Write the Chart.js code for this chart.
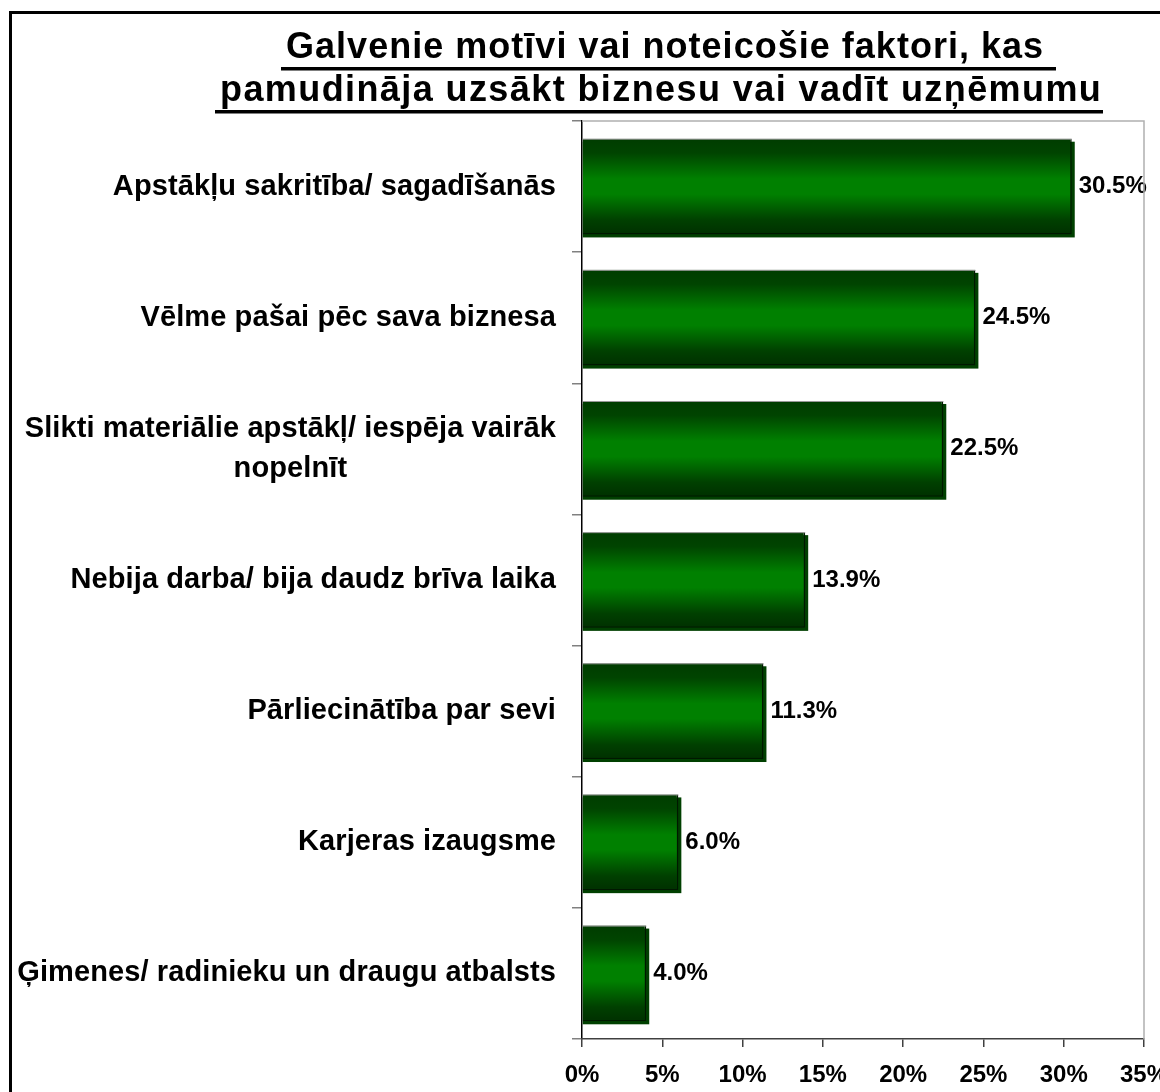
<!DOCTYPE html>
<html>
<head>
<meta charset="utf-8">
<script src="https://cdn.jsdelivr.net/npm/chart.js@4.4.1/dist/chart.umd.min.js"></script>
<style>
  body { margin: 0; background: #fff; }
  #wrap { width: 1160px; height: 1092px; }
</style>
</head>
<body>
<div id="wrap"><canvas id="grafica" width="1160" height="1092"></canvas></div>
<script>
const titulo = [
  'Galvenie motīvi vai noteicošie faktori, kas ',
  'pamudināja uzsākt biznesu vai vadīt uzņēmumu'
];
const kategorijas = [
  'Apstākļu sakritība/ sagadīšanās',
  'Vēlme pašai pēc sava biznesa',
  ['Slikti materiālie apstākļ/ iespēja vairāk', 'nopelnīt'],
  'Nebija darba/ bija daudz brīva laika',
  'Pārliecinātība par sevi',
  'Karjeras izaugsme',
  'Ģimenes/ radinieku un draugu atbalsts'
];
const vertibas = [30.5, 24.5, 22.5, 13.9, 11.3, 6.0, 4.0];
const xMin = 0, xMax = 35, xSolis = 5;

const FONTS = '"Liberation Sans", Arial, sans-serif';
const barPct = 0.73;

// gradients for the bars (dark edge -> bright middle -> dark edge)
function zalaisGradients(c) {
  const chart = c.chart;
  const y = chart.scales.y;
  if (!y || c.dataIndex === undefined) return '#007000';
  const center = y.getPixelForValue(c.dataIndex);
  const half = Math.abs(y.getPixelForValue(1) - y.getPixelForValue(0)) * barPct / 2;
  if (!isFinite(center) || !isFinite(half) || half <= 0) return '#007000';
  const g = chart.ctx.createLinearGradient(0, center - half, 0, center + half);
  g.addColorStop(0, '#003c00');
  g.addColorStop(0.15, '#004400');
  g.addColorStop(0.42, '#008000');
  g.addColorStop(0.58, '#008000');
  g.addColorStop(0.85, '#004000');
  g.addColorStop(1, '#003000');
  return g;
}

const fonsUnRamis = {
  id: 'fonsUnRamis',
  beforeDraw(chart) {
    const ctx = chart.ctx;
    ctx.save();
    ctx.fillStyle = '#fff';
    ctx.fillRect(0, 0, chart.width, chart.height);
    ctx.restore();
  },
  afterDraw(chart) {
    const ctx = chart.ctx;
    const a = chart.chartArea;
    ctx.save();
    // light border on top and right of plot area
    ctx.strokeStyle = '#b0b0b0';
    ctx.lineWidth = 1.5;
    ctx.beginPath();
    ctx.moveTo(a.left, a.top);
    ctx.lineTo(a.right, a.top);
    ctx.lineTo(a.right, a.bottom);
    ctx.stroke();
    // outer frame
    ctx.strokeStyle = '#000';
    ctx.lineWidth = 3;
    ctx.strokeRect(10.5, 12.5, chart.width + 20, chart.height + 20);
    ctx.restore();
  }
};

// title: bold, underlined, each line stretched to the width seen in the original
const virsraksts = {
  id: 'virsraksts',
  afterDraw(chart) {
    const ctx = chart.ctx;
    const bazes = [58, 101];
    const sakums = [286, 220];
    const platums = [769, 882];
    ctx.save();
    ctx.font = 'bold 36px ' + FONTS;
    ctx.fillStyle = '#000';
    ctx.textAlign = 'left';
    ctx.textBaseline = 'alphabetic';
    titulo.forEach((t, i) => {
      ctx.letterSpacing = '0px';
      const w0 = ctx.measureText(t).width;
      const ls = (platums[i] - w0) / t.length;
      ctx.letterSpacing = ls.toFixed(2) + 'px';
      ctx.fillText(t, sakums[i], bazes[i]);
      ctx.fillRect(sakums[i] - 5, bazes[i] + 9, platums[i] + 6, 3.5);
    });
    ctx.restore();
  }
};

const kategorijuTeksti = {
  id: 'kategorijuTeksti',
  afterDraw(chart) {
    const ctx = chart.ctx;
    const y = chart.scales.y;
    const labaMala = chart.chartArea.left - 26;
    ctx.save();
    ctx.font = 'bold 29px ' + FONTS;
    ctx.letterSpacing = '0.1px';
    ctx.fillStyle = '#000';
    ctx.textBaseline = 'middle';
    kategorijas.forEach((k, i) => {
      const yc = y.getPixelForValue(i);
      if (Array.isArray(k)) {
        const maxW = Math.max(...k.map(l => ctx.measureText(l).width));
        const cx = labaMala - maxW / 2;
        const rinda = 40;
        ctx.textAlign = 'center';
        k.forEach((l, j) => {
          ctx.fillText(l, cx, yc + (j - (k.length - 1) / 2) * rinda);
        });
      } else {
        ctx.textAlign = 'right';
        ctx.fillText(k, labaMala, yc);
      }
    });
    ctx.restore();
  }
};

const stabiniEfekti = {
  id: 'stabiniEfekti',
  beforeDatasetsDraw(chart) {
    const ctx = chart.ctx;
    const meta = chart.getDatasetMeta(0);
    ctx.save();
    ctx.fillStyle = '#004000';
    meta.data.forEach(el => {
      const p = el.getProps(['x', 'y', 'base', 'height'], true);
      ctx.fillRect(p.base, p.y - p.height / 2 + 3, p.x - p.base + 3, p.height);
    });
    ctx.restore();
  },
  afterDatasetsDraw(chart) {
    const ctx = chart.ctx;
    const meta = chart.getDatasetMeta(0);
    ctx.save();
    meta.data.forEach((el, i) => {
      const p = el.getProps(['x', 'y', 'base', 'height'], true);
      ctx.fillStyle = '#9a9a9a';
      ctx.fillRect(p.base, p.y - p.height / 2, p.x - p.base, 1);
      ctx.fillStyle = '#000';
      ctx.font = 'bold 24px ' + FONTS;
      ctx.textAlign = 'left';
      ctx.textBaseline = 'middle';
      ctx.fillText(vertibas[i].toFixed(1) + '%', p.x + 7, p.y);
    });
    ctx.restore();
  }
};

new Chart(document.getElementById('grafica'), {
  type: 'bar',
  data: {
    labels: kategorijas,
    datasets: [{
      data: vertibas,
      backgroundColor: zalaisGradients,
      borderColor: '#001800',
      borderWidth: { top: 0, left: 0, right: 1.5, bottom: 1.5 },
      borderSkipped: 'start',
      categoryPercentage: 1,
      barPercentage: barPct
    }]
  },
  options: {
    indexAxis: 'y',
    responsive: false,
    animation: false,
    layout: { padding: { left: 572, right: 16, top: 121, bottom: 0 } },
    plugins: {
      legend: { display: false },
      tooltip: { enabled: false },
      title: { display: false }
    },
    scales: {
      y: {
        type: 'category',
        offset: true,
        ticks: { display: false },
        grid: {
          offset: true,
          drawOnChartArea: false,
          drawTicks: true,
          tickLength: 10,
          color: '#808080',
          lineWidth: 1.5
        },
        border: { color: '#000', width: 1.5 },
        afterFit: s => { s.width = 10; }
      },
      x: {
        min: xMin,
        max: xMax,
        ticks: {
          stepSize: xSolis,
          padding: 14,
          color: '#000',
          font: { family: FONTS, size: 24, weight: 'bold' },
          callback: v => v + '%'
        },
        grid: {
          drawOnChartArea: false,
          drawTicks: true,
          tickLength: 8,
          color: '#404040',
          lineWidth: 1.5
        },
        border: { color: '#404040', width: 1.5 },
        afterFit: s => { s.height = 53; s.paddingLeft = 0; s.paddingRight = 0; }
      }
    }
  },
  plugins: [fonsUnRamis, stabiniEfekti, kategorijuTeksti, virsraksts]
});
</script>
</body>
</html>
